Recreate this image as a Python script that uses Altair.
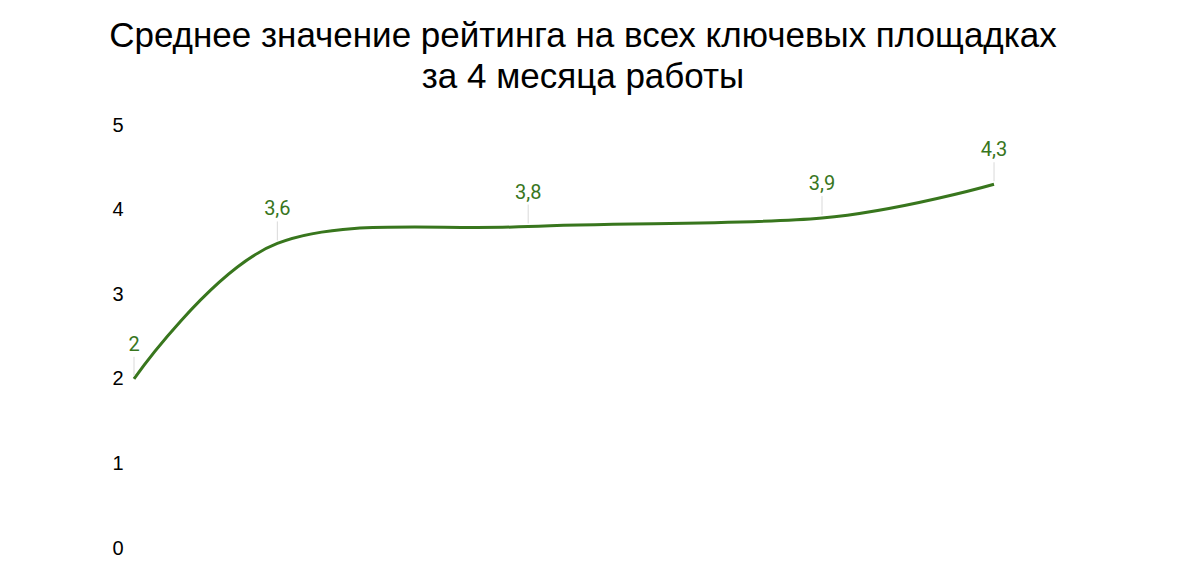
import altair as alt
import pandas as pd

days = [0, 20, 55, 96, 120]
rating = [2.0, 3.6, 3.8, 3.9, 4.3]
labels = [str(v).replace(".0", "").replace(".", ",") for v in rating]

df = pd.DataFrame({"day": days, "rating": rating, "label": labels})

GREEN = "#38761d"

x = alt.X("day:Q", axis=None, scale=alt.Scale(domain=[0, 125.3], nice=False, zero=False))
y = alt.Y("rating:Q", title=None,
          scale=alt.Scale(domain=[0, 5], nice=False),
          axis=alt.Axis(values=[0, 1, 2, 3, 4, 5], domain=False, ticks=False, grid=False,
                        labelFont="Liberation Sans", labelFontSize=20, labelColor="#000000",
                        labelPadding=11, format="d"))

base = alt.Chart(df)

line = base.mark_line(interpolate="cardinal", tension=0, color=GREEN, strokeWidth=3).encode(x=x, y=y)

rules = base.mark_rule(color="#d9d9d9", strokeWidth=1, yOffset=-3, y2Offset=-22).encode(
    x=x, y=y, y2="rating:Q")

text = base.mark_text(color=GREEN, font="Roboto", fontSize=20, dy=-34, baseline="middle").encode(
    x=x, y=y, text="label:N")

chart = alt.layer(line, rules, text).properties(
    width=898,
    height=423,
    padding={"left": 101, "top": 11, "right": 10, "bottom": 5},
    title=alt.TitleParams(
        text=["Среднее значение рейтинга на всех ключевых площадках", "за 4 месяца работы"],
        font="Liberation Sans", fontSize=35, fontWeight="normal", color="#000000",
        lineHeight=41, anchor="middle", offset=20,
    ),
).configure_view(stroke=None)

chart.save("out.html", embed_options={"renderer": "svg", "actions": False})
